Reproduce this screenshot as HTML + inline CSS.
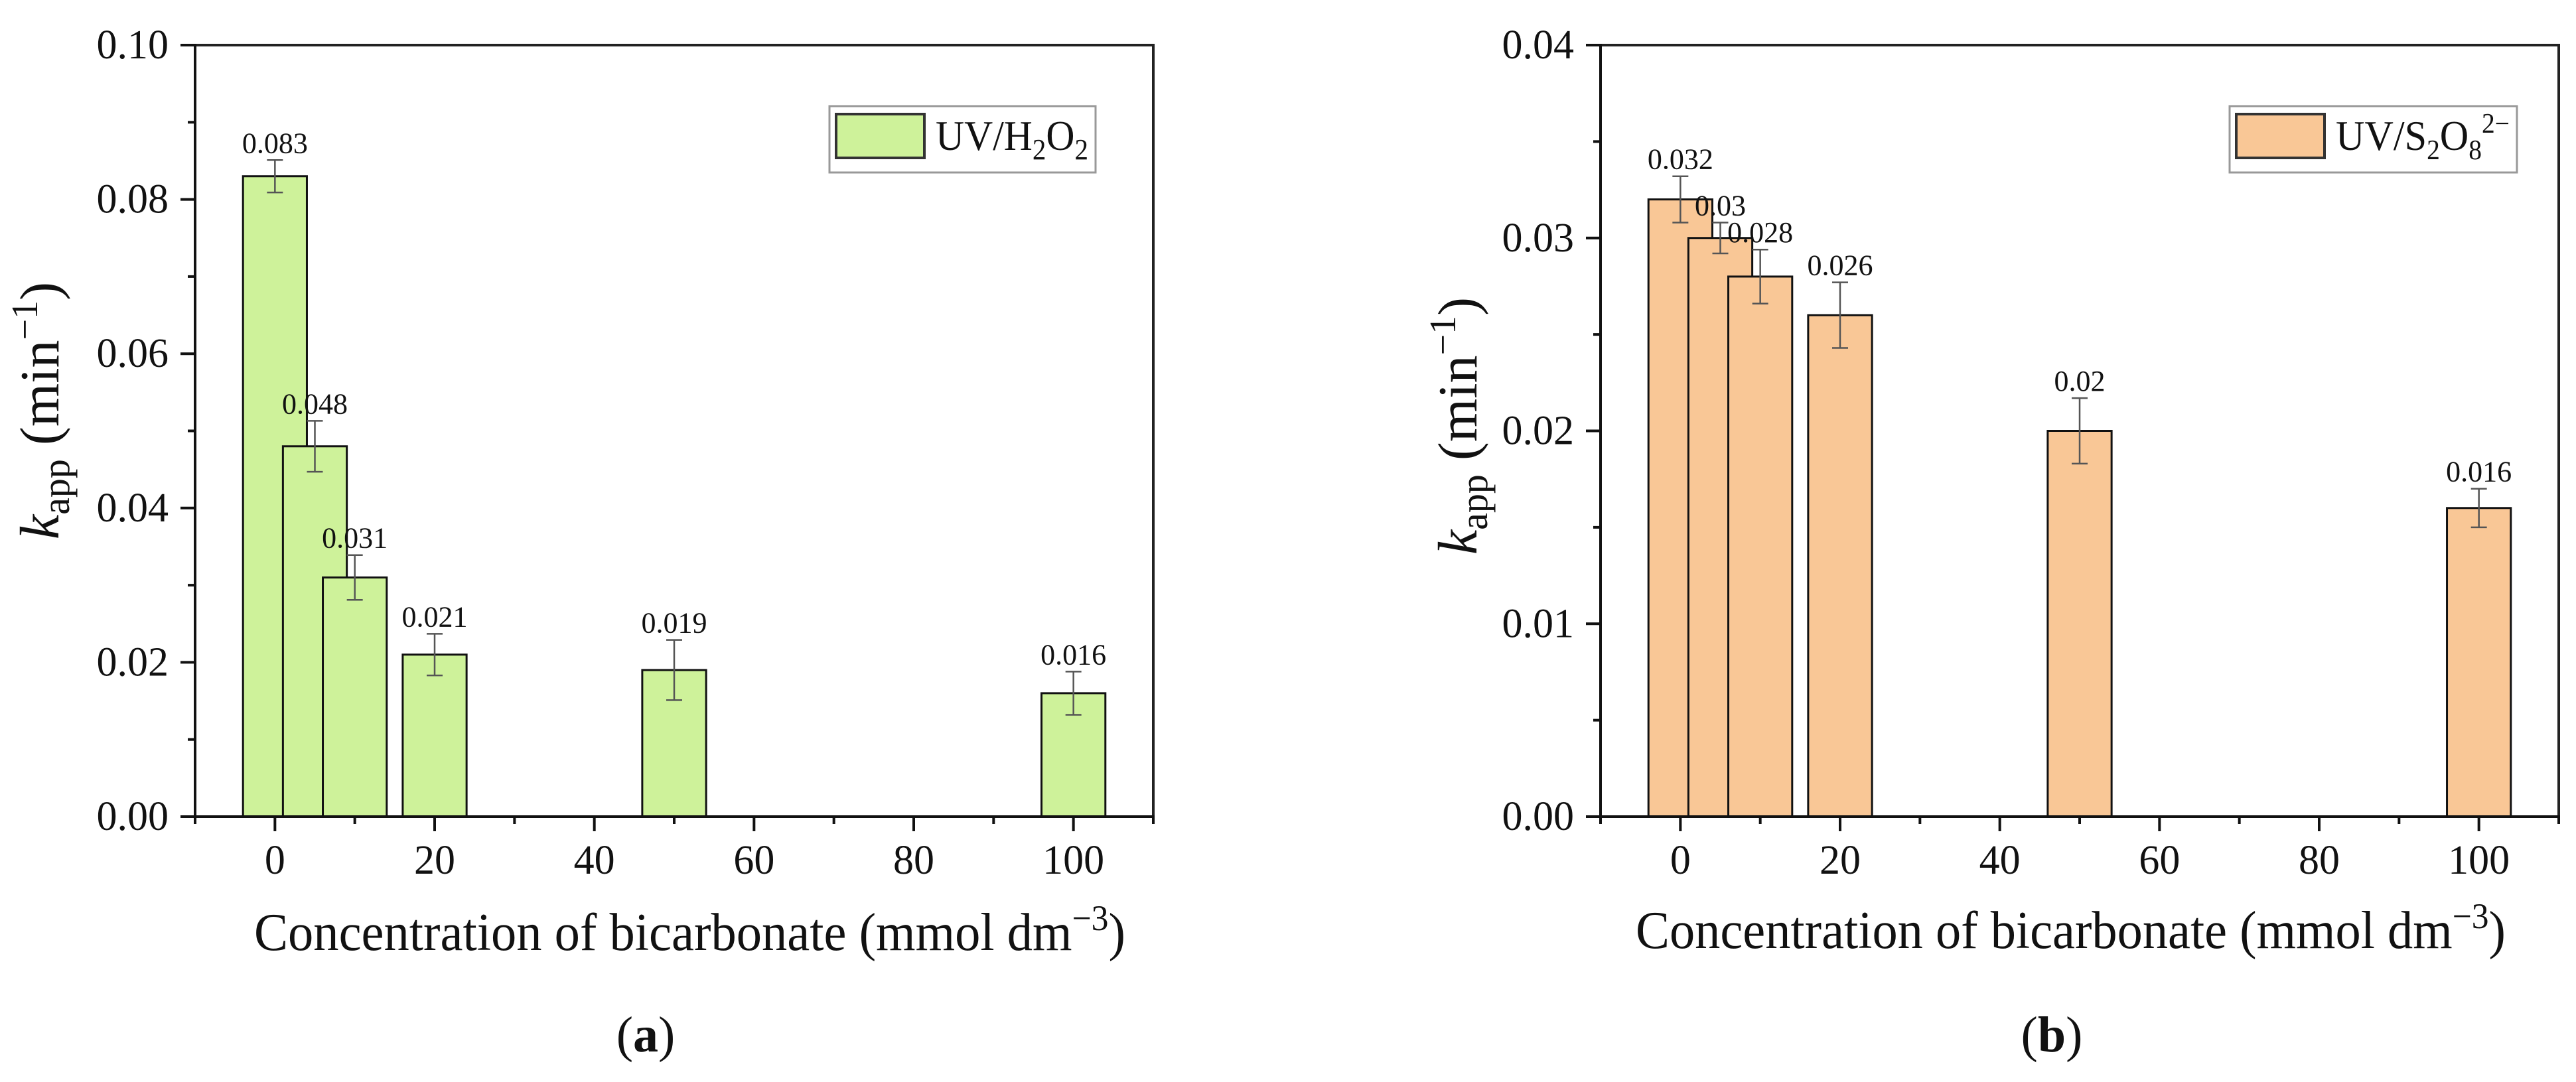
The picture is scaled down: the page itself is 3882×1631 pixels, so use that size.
<!DOCTYPE html>
<html><head><meta charset="utf-8"><style>
html,body{margin:0;padding:0;background:#fff;}
svg{display:block;}
text{font-family:"Liberation Serif","DejaVu Serif",serif;}
</style></head><body>
<svg id="fig" width="3882" height="1631" viewBox="0 0 3882 1631" xmlns="http://www.w3.org/2000/svg" font-family="Liberation Serif, serif"></svg>
<script>
const concA = [0, 5, 10, 20, 50, 100];
const valuesA = [0.083, 0.048, 0.031, 0.021, 0.019, 0.016];
const errorsA = [0.0021, 0.0033, 0.0029, 0.0027, 0.0039, 0.0028];
const labelsA = ["0.083", "0.048", "0.031", "0.021", "0.019", "0.016"];
const yTicksA = [0, 0.02, 0.04, 0.06, 0.08, 0.10];
const yTickLabelsA = ["0.00", "0.02", "0.04", "0.06", "0.08", "0.10"];
const yMinorA = [0.01, 0.03, 0.05, 0.07, 0.09];

const concB = [0, 5, 10, 20, 50, 100];
const valuesB = [0.032, 0.030, 0.028, 0.026, 0.020, 0.016];
const errorsB = [0.0012, 0.0008, 0.0014, 0.0017, 0.0017, 0.0010];
const labelsB = ["0.032", "0.03", "0.028", "0.026", "0.02", "0.016"];
const yTicksB = [0, 0.01, 0.02, 0.03, 0.04];
const yTickLabelsB = ["0.00", "0.01", "0.02", "0.03", "0.04"];
const yMinorB = [0.005, 0.015, 0.025, 0.035];

const xTicks = [0, 20, 40, 60, 80, 100];
const xTickLabels = ["0", "20", "40", "60", "80", "100"];
const xMinor = [-10, 10, 30, 50, 70, 90, 110];

const NS = "http://www.w3.org/2000/svg";
const svg = document.getElementById("fig");
function mk(tag, attrs, parent) {
  const e = document.createElementNS(NS, tag);
  for (const k in attrs) e.setAttribute(k, attrs[k]);
  (parent || svg).appendChild(e);
  return e;
}

function panel(o) {
  const g = mk("g", {});
  
  
  const X0 = o.left, X1 = o.right, Y0 = 1231, Y1 = 68;
  const xs = v => X0 + (v - (-10)) / 120 * (X1 - X0);
  const ys = v => Y0 - v / o.ymax * (Y0 - Y1);

  o.conc.forEach((c, i) => {
    const r = mk("rect", {x: xs(c - 4), y: ys(o.vals[i]), width: xs(c + 4) - xs(c - 4), height: Y0 - ys(o.vals[i]), fill: o.color, stroke: "#111", "stroke-width": 3}, g);
    
    
  });
  o.conc.forEach((c, i) => {
    const cx = xs(c), t = ys(o.vals[i] + o.errs[i]), b = ys(o.vals[i] - o.errs[i]);
    const eb = mk("path", {d: `M${cx-12},${t}H${cx+12}M${cx},${t}V${b}M${cx-12},${b}H${cx+12}`, stroke: "#555", "stroke-width": 2.5, fill: "none"}, g);
    
    
    const tx = mk("text", {x: cx, y: t - 11, "font-size": 44, "text-anchor": "middle", fill: "#111"}, g);
    tx.textContent = o.labels[i];
    
    
  });
  const fr = mk("path", {d: `M${X0},${Y1}H${X1}V${Y0}`, stroke: "#222", "stroke-width": 4, fill: "none"}, g);
  
  
  const ya = mk("line", {x1: X0, y1: Y1 - 2, x2: X0, y2: Y0 + 2, stroke: "#111", "stroke-width": 4}, g);
  
  
  const xa = mk("line", {x1: X0 - 2, y1: Y0, x2: X1 + 2, y2: Y0, stroke: "#111", "stroke-width": 4}, g);
  
  
  o.yt.forEach((v, i) => {
    const y = ys(v);
    mk("line", {x1: X0 - 22, y1: y, x2: X0, y2: y, stroke: "#111", "stroke-width": 4}, g);
    const t = mk("text", {x: X0 - 40, y: y + 20, "font-size": 62, "text-anchor": "end", fill: "#111"}, g);
    t.textContent = o.ytl[i];
    
    
  });
  o.ym.forEach(v => { const y = ys(v); mk("line", {x1: X0 - 11, y1: y, x2: X0, y2: y, stroke: "#111", "stroke-width": 4}, g); });
  xTicks.forEach((v, i) => {
    const x = xs(v);
    mk("line", {x1: x, y1: Y0, x2: x, y2: Y0 + 22, stroke: "#111", "stroke-width": 4}, g);
    const t = mk("text", {x: x, y: 1317, "font-size": 62, "text-anchor": "middle", fill: "#111"}, g);
    t.textContent = xTickLabels[i];
    
    
  });
  xMinor.forEach(v => { const x = xs(v); mk("line", {x1: x, y1: Y0, x2: x, y2: Y0 + 11, stroke: "#111", "stroke-width": 4}, g); });

  const xt = mk("text", {x: o.xtX, y: o.xtY, "font-size": 80, fill: "#111", textLength: o.xtW, lengthAdjust: "spacingAndGlyphs"}, g);
  
  
  const s1 = mk("tspan", {}, xt); s1.textContent = "Concentration of bicarbonate (mmol dm";
  const s2 = mk("tspan", {dy: -30, "font-size": 54}, xt); s2.textContent = "\u22123";
  const s3 = mk("tspan", {dy: 30}, xt); s3.textContent = ")";

  const yt = mk("text", {transform: `translate(${o.ytX},${o.ytY}) rotate(-90)`, "font-size": 84, "text-anchor": "middle", fill: "#111"}, g);
  
  
  const k = mk("tspan", {"font-style": "italic"}, yt); k.textContent = "k";
  const ap = mk("tspan", {dy: 16, "font-size": 58}, yt); ap.textContent = "app";
  const mn = mk("tspan", {dy: -16}, yt); mn.textContent = " (min";
  const sp = mk("tspan", {dy: -32, "font-size": 56}, yt); sp.textContent = "\u22121";
  const cp = mk("tspan", {dy: 32}, yt); cp.textContent = ")";

  const lg = mk("g", {}, g);
  
  
  mk("rect", {x: o.lg[0], y: 160, width: o.lg[1] - o.lg[0], height: 100, fill: "#fff", stroke: "#999", "stroke-width": 3}, lg);
  const sw = mk("rect", {x: o.lg[0] + 10, y: 172, width: 133, height: 66, fill: o.color, stroke: "#333", "stroke-width": 4}, lg);
  
  
  const lt = mk("text", {x: o.lg[0] + 160, y: 226, "font-size": 64, fill: "#111", textLength: o.ltW, lengthAdjust: "spacingAndGlyphs"}, lg);
  
  
  o.legendParts.forEach(p => {
    const s = mk("tspan", p.a, lt); s.textContent = p.t;
  });

  const cap = mk("text", {x: o.capX, y: 1585, "font-size": 76, "text-anchor": "middle", fill: "#111"}, g);
  
  
  const c1 = mk("tspan", {}, cap); c1.textContent = "(";
  const c2 = mk("tspan", {"font-weight": "bold"}, cap); c2.textContent = o.capLetter;
  const c3 = mk("tspan", {}, cap); c3.textContent = ")";
}

panel({name: "panel-a-uv-h2o2", left: 294, right: 1738, ymax: 0.10, color: "#cef29a",
  conc: concA, vals: valuesA, errs: errorsA, labels: labelsA, yt: yTicksA, ytl: yTickLabelsA, ym: yMinorA,
  xtX: 383, xtY: 1432, xtW: 1313, ytX: 88, ytY: 619, lg: [1250, 1651], ltW: 230, capX: 973, capLetter: "a",
  legendParts: [{t: "UV/H", a: {}}, {t: "2", a: {dy: 14, "font-size": 44}}, {t: "O", a: {dy: -14}}, {t: "2", a: {dy: 14, "font-size": 44}}]});

panel({name: "panel-b-uv-s2o8", left: 2412, right: 3856, ymax: 0.04, color: "#f9c796",
  conc: concB, vals: valuesB, errs: errorsB, labels: labelsB, yt: yTicksB, ytl: yTickLabelsB, ym: yMinorB,
  xtX: 2465, xtY: 1429, xtW: 1311, ytX: 2225, ytY: 642, lg: [3360, 3793], ltW: 262, capX: 3092, capLetter: "b",
  legendParts: [{t: "UV/S", a: {}}, {t: "2", a: {dy: 14, "font-size": 42}}, {t: "O", a: {dy: -14}}, {t: "8", a: {dy: 14, "font-size": 42}}, {t: "2\u2212", a: {dy: -40, "font-size": 42}}]});
</script>
</body></html>
